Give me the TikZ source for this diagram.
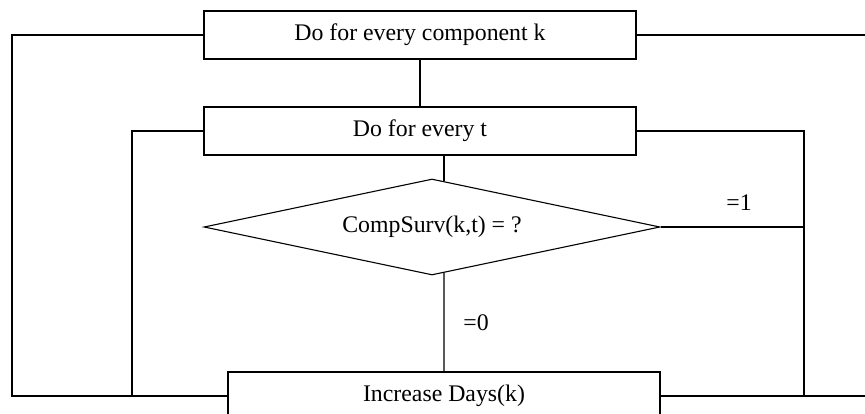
\documentclass[tikz,border=0pt]{standalone}
\usepackage{fontspec}
\setmainfont{Liberation Serif}
\usetikzlibrary{shapes.geometric,calc}
\begin{document}
\begin{tikzpicture}[x=1pt,y=-1pt,
  box/.style={draw,line width=1.1pt,rectangle,minimum width=432pt,minimum height=48pt,inner sep=0pt},
  decision/.style={draw,line width=1.1pt,diamond,aspect=4.75,minimum width=456pt,minimum height=96pt,inner sep=0pt},
  wire/.style={line width=1.1pt},
  lbl/.style={inner sep=0pt},
  every node/.style={font=\fontsize{23.8}{28}\selectfont}]
\useasboundingbox (0,0) rectangle (865,414);
\clip (0,0) rectangle (865,414);
\fill[white] (0,0) rectangle (865,414);
\node[box] (top) at (420,35) {Do for every component k};
\node[box] (loop) at (420,131) {Do for every t};
\node[decision] (dec) at (432,227) {CompSurv(k,t) = ?};
\node[box] (inc) at (444,396) {Increase Days(k)};
\node[lbl] (one) at (739,203) {=1};
\node[lbl] (zero) at (476,323) {=0};
\coordinate (lo) at (12,0);
\coordinate (li) at (132,0);
\coordinate (ri) at (804,0);
\coordinate (ro) at (880,0);
\coordinate (dT) at ($(dec.north)!0.0526!(dec.east)$);
\coordinate (dB) at ($(dec.south)!0.0526!(dec.east)$);
\draw[wire] (top) -- (loop);
\draw[wire] (dT |- loop.south) -- (dT);
\draw[wire] (dB) -- (inc.north);
\draw[wire] (dec.east) -- (dec.east -| ri);
\draw[wire] (top.west) -| (lo |- inc.west) -- (inc.west);
\draw[wire] (loop.west) -| (li |- inc.west);
\draw[wire] (top.east) -| (ro |- inc.east) -- (inc.east);
\draw[wire] (loop.east) -| (ri |- inc.east);
\end{tikzpicture}
\end{document}
